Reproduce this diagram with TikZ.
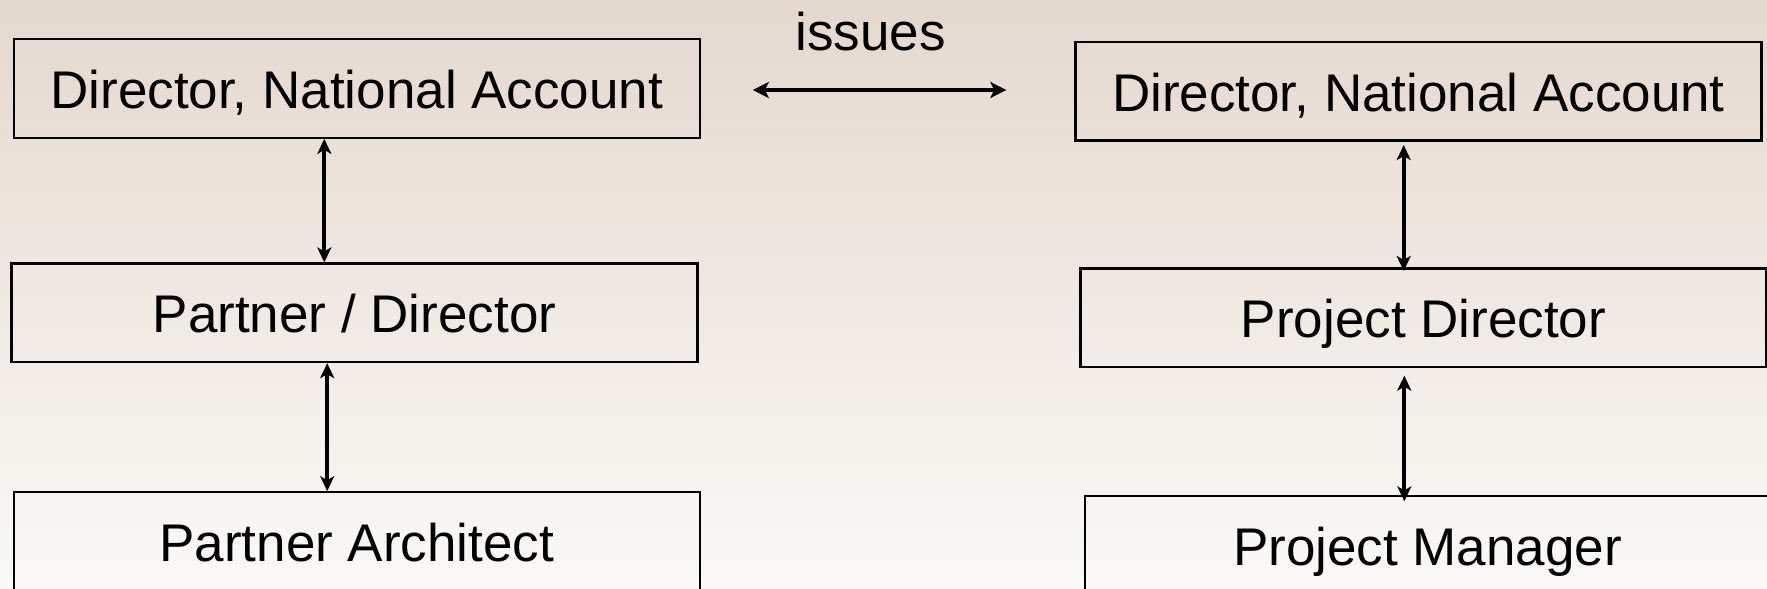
\documentclass[tikz,border=0pt]{standalone}
\usepackage{fontspec}
\setmainfont{Liberation Sans}
\usetikzlibrary{arrows.meta}
\definecolor{bgtop}{RGB}{228,216,206}
\definecolor{bgbot}{RGB}{250,249,247}
\begin{document}
\begin{tikzpicture}[x=1pt,y=-1pt,
  box/.style={draw=black, line width=2.2pt, rectangle, inner sep=0pt,
    minimum width=686pt, minimum height=98.5pt,
    font=\fontsize{53}{60}\selectfont, text height=40pt, text depth=0pt},
  lbl/.style={inner sep=0pt, font=\fontsize{53}{60}\selectfont, anchor=base},
  arr/.style={line width=4.2pt, {Stealth[length=15pt,width=14pt,inset=4pt]}-{Stealth[length=15pt,width=14pt,inset=4pt]}},
  harr/.style={line width=4.5pt, {Stealth[length=16pt,width=16pt,inset=4pt]}-{Stealth[length=16pt,width=16pt,inset=4pt]}}]
\useasboundingbox (0,0) rectangle (1767,589);
\clip (0,0) rectangle (1767,589);
\shade[top color=bgtop, bottom color=bgbot] (0,0) rectangle (1767,589);
% left column
\node[box] (L1) at (356.75,88.5) {Director, National Account};
\node[box] (L2) at (354.5,312.8) {Partner / Director};
\node[box] (L3) at (356.75,541.5) {Partner Architect};
% right column
\node[box] (R1) at (1418.4,91.2) {Director, National Account};
\node[box] (R2) at (1423.5,317.8) {Project Director};
\node[box] (R3) at (1427.6,545.2) {Project Manager};
% label
\node[lbl] (iss) at (870.5,50) {issues};
% column coordinates
\coordinate (xa) at (324.3,0);
\coordinate (xb) at (327.2,0);
\coordinate (xc) at (1403.7,0);
\coordinate (xd) at (1404.3,0);
% connectors
\draw[arr] (L1.south -| xa) -- (L2.north -| xa);
\draw[arr] (L2.south -| xb) -- (L3.north -| xb);
\draw[arr, shorten <=3.5pt, shorten >=-3.5pt] (R1.south -| xc) -- (R2.north -| xc);
\draw[arr, shorten <=7.5pt, shorten >=-6.5pt] (R2.south -| xd) -- (R3.north -| xd);
\draw[harr, shorten <=52pt, shorten >=68pt] (L1.east |- 0,90) -- (R1.west |- 0,90);
\end{tikzpicture}
\end{document}
